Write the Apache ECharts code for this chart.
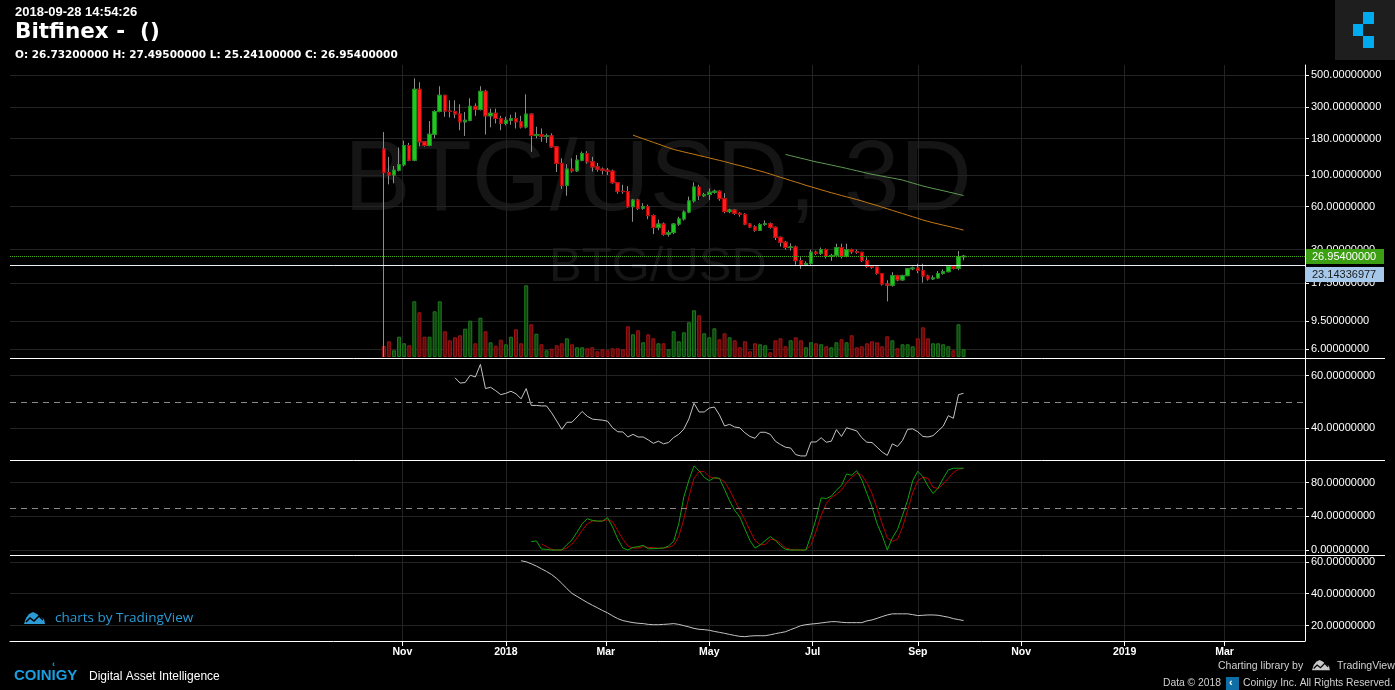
<!DOCTYPE html>
<html><head><meta charset="utf-8">
<script src="https://cdn.jsdelivr.net/npm/echarts@6/dist/echarts.min.js"></script>
<style>html,body{margin:0;padding:0;background:#000;}#c{width:1395px;height:690px;}</style>
</head><body><div id="c"></div>
<script>
// ---------- DATA ----------
const firstCandleUTC = [2017, 9, 21];   // 2017-10-21, 3D candles
const stepDays = 3;
// [open, close, low, high]  (first candle's low runs off the bottom of the chart)
const ohlc = [
[152,104,5.3,200],[104,100,86,134],[100,108,87.5,115.6],[108,118,106,156],[118,161,115,174],
[161,127,125,168],[127,399,125,476],[399,171,159,447],[171,161,158,173],[161,193,159,239],
[193,279,181,285],[279,362,275,419],[362,281,256,365],[281,279,253,334],[279,268,250,334],
[268,236,206,313],[236,242,188,277],[242,303,238,345],[303,288,260,318],[288,386,283,419],
[386,260,192,395],[260,271,216,292],[271,249,230,292],[249,230,206,260],[230,242,223,256],
[242,249,225,265],[249,236,212,275],[236,217,212,260],[217,267,212,368],[267,189,145.5,270],
[189,192,181,218],[192,187,171,212],[187,188,168,195],[188,157.6,155,196],[157.6,120.6,105,160],
[120.6,84.7,80,131],[84.7,110,71.5,119],[110,107,104,131],[107,127,105,138],[127,141.6,125,146],
[141.6,123.8,120,147],[123.8,114,105.6,134],[114,110,105.6,121.5],[110,108,101,113],[108,106.5,100,112],
[106.5,88.3,87,109],[88.3,76.9,73.9,89],[76.9,76.5,73.9,85.5],[76.5,60,59,83.6],[60,66.8,47,68],
[66.8,58.5,57,68],[58.5,60,57,63.5],[60,51.9,49,62],[51.9,42.8,38.5,53],[42.8,45.3,41,48.7],
[45.3,38.5,37.5,46.5],[38.5,39.5,37,41],[39.5,45.3,38.5,46],[45.3,49.2,44,51],[49.2,55,48,56.5],
[55,65.8,54,70.6],[65.8,82.4,64,89],[82.4,71.6,66.8,85.5],[71.6,73,70,75],[73,75.7,66.8,80.5],
[75.7,77,74,79],[77,68.3,66,78],[68.3,55.4,53.9,74.6],[55.4,56.8,54,58],[56.8,53.9,52.5,57.5],
[53.9,53,51,55],[53,45.3,44.5,54],[45.3,43.3,42.5,46],[43.3,41,40,44.5],[41,45,40.5,46],
[45,45.5,44,48],[45.5,43,42,46.5],[43,36.6,35,43.5],[36.6,33.8,31.5,37],[33.8,31,30,34.5],
[31,31.3,29.5,33.2],[31.3,25.1,23.5,32],[25.1,23.5,22,26.5],[23.5,24,23,24.8],[24,28.8,23.5,30],
[28.8,28.2,27.5,29.5],[28.2,30,27.5,31],[30,26.9,26,30.5],[26.9,27.3,25,28],[27.3,31,26.5,33],
[31,26.9,26,33],[26.9,30,26.5,33],[30,29,28,30.5],[29,28.7,28,30],[28.7,25.1,24.5,29],
[25.1,22.8,22.3,26.5],[22.8,22.6,22,23.3],[22.6,20.4,20,22.8],[20.4,17.2,16.8,20.6],[17.2,16.9,13,18.3],
[16.9,19.7,16.5,20.8],[19.7,18.4,18,20],[18.4,19.7,18.2,20],[19.7,22,19.5,22.3],[22,22.3,21.5,22.8],
[22.3,21.4,20.5,23.9],[21.4,19.6,17.6,23.9],[19.6,18.7,18.2,20],[18.7,19,18.4,19.8],[19,20.4,18.8,21.2],
[20.4,21,20,21.8],[21,22.8,20.8,23.2],[22.8,22.2,21.8,23.3],[22.2,26.732,21.5,29.3],[26.732,26.954,25.241,27.495]
];
// volume (thousand BTG), one per candle
const volume = [
11,15.7,6.7,20.3,13.7,11.7,55.7,44.7,20.3,20.3,
45.7,55.7,25.7,16.7,19.7,21.7,28.3,36.3,13.7,39.3,
25.7,14.7,11.3,17.3,12.7,20.3,27.7,13.7,71.7,32.7,
23.3,12.7,6.7,8.3,11.7,13.7,18.7,12.7,9.7,9.7,
8.7,9.7,5.7,7.7,6.7,8.7,8.7,7.7,30.7,22.7,
26.7,14.7,22.7,18.7,13.7,13.7,7.7,25.7,15.7,24.7,
34.7,46.7,41.7,23.7,19.7,28.7,17.7,23.7,19.7,16.7,
9.7,15.7,5.7,13.7,12.7,11.7,4.7,16.7,18.7,10.7,
16.7,19.7,16.7,9.7,14.7,13.7,12.7,10.7,9.7,14.7,
17.7,14.7,21.7,9.7,10.7,13.7,15.7,14.7,10.7,20.7,
16.7,8.7,12.7,12.7,10.7,18.7,29.7,18.7,13.7,13.7,
12.7,10.7,6.7,32.7,7.7
];
// moving averages (start candle numbers are 1-based)
const maOrangeStart = 50;
const maOrange = [190.3,184.9,179.6,174.5,169.5,164.7,159.9,155.4,151.2,148.1,
145.2,142.4,139.7,137,134.4,131.8,129.1,126.6,124.2,121.4,
118.7,116.4,114,111.5,109,106.6,104.2,101.6,99,96.4,
94,91.5,89.3,87,84.7,82.7,80.7,78.8,76.9,75.1,
73.5,71.8,70.3,68.8,67.3,65.8,64.1,62.6,61.1,59.5,
58,56.5,55.1,53.7,52.3,51,49.7,48.4,47.3,46.3,
45.4,44.5,43.7,42.8,42,41.1];
const maGreenStart = 80;
const maGreen = [139.5,136.6,134,131.2,128.7,126,123.6,121.6,119.5,117.4,
115.3,113.4,111.3,109.2,107.1,105.1,103,101.2,99.6,98.2,
96.6,95.2,93.7,92.2,90,87.8,85.8,83.7,82.1,80.5,
79,77.6,76.1,74.7,73.2,71.8];
const rsiStart = 15;
const rsi = [59.2,57.2,57.4,60.2,59.5,64.3,55.1,55.6,54.3,52.8,
53.3,54.1,53.1,51.2,55.1,48.7,48.7,48.5,48.5,45.9,
42.8,39.6,42.3,42.3,44.3,46.4,44.6,43.5,43.3,43.1,
42.7,40.2,38.7,38.6,36.7,37.7,36.7,36.7,35.6,34.3,
35.1,34.1,34.6,36.5,37.7,39.7,43.6,49.5,46.2,46.2,
47.7,48.1,45.1,40.9,41.5,40.5,40.2,38.3,36.9,36.2,
38.5,38.5,37.7,35.1,33.8,32.8,32.5,30,29.5,29.5,
34.8,34.8,36.4,34.7,35.1,39.5,36.9,40.2,39.6,39,
36.4,34.7,34.6,32.8,31,29.7,34.1,33.1,35.4,39.6,
39.8,38.7,36.9,36.7,37.2,39,40.8,44.8,43.8,52.8,53.3];
const stochKStart = 30;
const stochK = [10,10.8,1.2,0.8,0,0,0,6.4,12,21.2,
31.2,37.2,35.2,34.4,34.4,38.4,27.2,13.2,2.4,0,
3.2,4,5.6,1.6,1.6,2,2.4,4.8,10.4,31.2,
63.2,83.2,100,94,86.4,82.4,86,85.2,72,58.4,
47.2,39.2,25.2,11.2,2.4,6,11.2,16,11.2,5.2,
0.8,0,0,0,0,17.2,37.2,62,61.2,64,
71.2,76.8,90.4,88.8,94.4,83.2,67.2,51.2,31.2,17.2,
0,14.4,24.4,41.2,59.2,82.4,93.6,87.2,76,67.2,
73.6,85.2,95.2,97.2,97.2,97.2];
const stochDStart = 32;
const stochD = [7.2,4,0.8,0,0,2.4,7.2,14.4,23.2,31.2,
34.4,34.4,34.4,36,33.6,23.2,12.8,4.8,2.4,2.4,
4,3.2,2.8,2,2.4,3.2,5.6,16,36.8,63.2,
85.2,93.2,93.2,87.2,85.2,85.2,81.2,71.2,59.2,47.2,
36,23.2,11.2,6.4,6.4,12.8,12,8,2.4,0.8,
0,0,0,6.4,22.4,41.2,55.2,62.4,66.4,71.2,
80,86.4,91.2,88.8,80,67.2,49.2,31.2,14.4,10.4,
12.8,27.2,47.2,68,82.4,86.4,85.2,74.4,73.2,78.4,
85.2,92,96,97.2];
const adxStart = 28;
const adx = [60.6,60,58.7,57.3,55.6,53.9,52,49.5,46.5,43.2,
40.2,38.3,36.4,34.5,32.8,31.2,29.5,28,26.1,24.4,
23.2,22.5,21.9,21.5,21.3,20.8,20.6,20.6,20.8,21,
21.3,20.8,20,19.2,18.3,17.7,17.5,17.1,16.4,15.8,
15.2,14.5,13.9,13.3,13.1,13.5,13.7,13.7,13.7,14.3,
15,15.6,16.2,17.5,18.7,20,20.6,21,21.3,21.7,
22.1,22.5,22.5,22.1,21.9,21.9,21.9,21.9,23,23.6,
24.6,25.7,26.7,27.4,27.4,27.4,27.4,26.9,26.3,26.5,
26.7,26.7,26.5,25.9,25.3,24.4,23.8,23.2];
const lastClose = 26.954;
const refLevel = 23.14336977;
const rsiMid = 50, stochMid = 50;
const priceTicks = [6, 9.5, 17.5, 30, 60, 100, 180, 300, 500];
const rsiTicks = [40, 60];
const stochTicks = [0, 40, 80];
const adxTicks = [20, 40, 60];
const monthTicks = [[2017,10],[2018,0],[2018,2],[2018,4],[2018,6],[2018,8],[2018,10],[2019,0],[2019,2]];
const monthNames = ['Jan','Feb','Mar','Apr','May','Jun','Jul','Aug','Sep','Oct','Nov','Dec'];
const headerDate = '2018-09-28 14:54:26';
const headerTitle = 'Bitfinex -  ()';
const headerOHLC = 'O: 26.73200000 H: 27.49500000 L: 25.24100000 C: 26.95400000';

// ---------- BUILD ----------
const DAY = 86400000;
const t0 = Date.UTC(firstCandleUTC[0], firstCandleUTC[1], firstCandleUTC[2]);
const tAt = n => t0 + (n - 1) * stepDays * DAY;   // n is 1-based candle number
const xMin = Date.UTC(2017, 2, 14, 12);
const xMax = Date.UTC(2019, 3, 17, 10);
const monthTs = monthTicks.map(m => Date.UTC(m[0], m[1], 1));
const gridColor = '#232323';
const labelFont = 'Liberation Sans, Arial, sans-serif';

const candleData = ohlc.map((d, i) => [tAt(i + 1), d[0], d[1], d[2], d[3]]);
const bodyData = ohlc.map((d, i) => [tAt(i + 1), d[0], d[1], Math.min(d[0], d[1]), Math.max(d[0], d[1])]);
const volData = volume.map((v, i) => {
  const up = ohlc[i][1] >= ohlc[i][0];
  return { value: [tAt(i + 1), v], itemStyle: up ? { color: '#0d470d', borderColor: '#1d7a1d', borderWidth: 1 } : { color: '#640a0a', borderColor: '#9c1414', borderWidth: 1 } };
});
const toLine = (arr, start) => arr.map((v, k) => [tAt(start + k), v]);

function xAxisFor(gi, showLabels, showSplit) {
  return {
    type: 'value', gridIndex: gi, min: xMin, max: xMax, scale: true,
    axisLine: { show: showLabels, onZero: false, lineStyle: { color: '#ffffff', width: 1 } },
    axisTick: { show: showLabels, customValues: monthTs, length: 5, lineStyle: { color: '#ffffff' } },
    axisLabel: {
      show: showLabels, customValues: monthTs, color: '#ffffff', fontSize: 10.5, fontWeight: 'bold',
      fontFamily: labelFont, margin: 6,
      formatter: v => { const d = new Date(Number(v)); return d.getUTCMonth() === 0 ? String(d.getUTCFullYear()) : monthNames[d.getUTCMonth()]; }
    },
    splitLine: { show: showSplit, lineStyle: { color: gridColor, width: 1 } }
  };
}
function yAxisFor(gi, type, min, max, ticks) {
  return {
    type: type, gridIndex: gi, position: 'right', min: min, max: max,
    axisLine: { show: true, onZero: false, lineStyle: { color: '#ffffff', width: 1 } },
    axisTick: { show: true, customValues: ticks, length: 4, lineStyle: { color: '#ffffff' } },
    axisLabel: { customValues: ticks, color: '#ffffff', fontSize: 11, fontFamily: labelFont, margin: 6,
      formatter: v => Number(v).toFixed(8) },
    splitLine: { show: true, lineStyle: { color: gridColor, width: 1 } }
  };
}
const gridBase = { left: 10, width: 1295, containLabel: false };

const option = {
  backgroundColor: '#000000',
  animation: false,
  grid: [
    Object.assign({ top: 65, height: 292 }, gridBase),
    Object.assign({ top: 282, height: 75 }, gridBase),
    Object.assign({ top: 359, height: 101 }, gridBase),
    Object.assign({ top: 461, height: 94 }, gridBase),
    Object.assign({ top: 556, height: 85 }, gridBase)
  ],
  xAxis: [xAxisFor(0, false, true), xAxisFor(1, false, false), xAxisFor(2, false, true), xAxisFor(3, false, true), xAxisFor(4, true, true)],
  yAxis: [
    Object.assign(yAxisFor(0, 'log', 5.30, 590.5, priceTicks), { logBase: 10 }),
    { type: 'value', gridIndex: 1, min: 0, max: 75, show: false },
    yAxisFor(2, 'value', 27.95, 66.35, rsiTicks),
    yAxisFor(3, 'value', -5.9, 105.8, stochTicks),
    yAxisFor(4, 'value', 10.4, 63.6, adxTicks)
  ],
  series: [
    { type: 'bar', xAxisIndex: 1, yAxisIndex: 1, data: volData, barWidth: 4, z: 1 },
    { type: 'candlestick', xAxisIndex: 0, yAxisIndex: 0, data: candleData, encode: { x: 0, y: [1, 2, 3, 4] },
      barWidth: 4, z: 3, clip: true,
      itemStyle: { color: '#8c8c8c', color0: '#8c8c8c', borderColor: '#8c8c8c', borderColor0: '#8c8c8c', borderWidth: 1 } },
    { type: 'candlestick', xAxisIndex: 0, yAxisIndex: 0, data: bodyData, encode: { x: 0, y: [1, 2, 3, 4] },
      barWidth: 4, z: 4, clip: true,
      itemStyle: { color: '#22c622', color0: '#ff1c1c', borderColor: '#178f17', borderColor0: '#b80000', borderWidth: 1 },
      markLine: { silent: true, symbol: ['none', 'none'], label: { show: false },
        data: [
          { yAxis: lastClose, lineStyle: { color: '#46b01a', type: 'dotted', width: 1 } },
          { yAxis: refLevel, lineStyle: { color: '#e8eef8', type: 'solid', width: 1 } }
        ] } },
    { type: 'line', xAxisIndex: 0, yAxisIndex: 0, data: toLine(maOrange, maOrangeStart), showSymbol: false, z: 5,
      lineStyle: { color: '#c47a12', width: 1 } },
    { type: 'line', xAxisIndex: 0, yAxisIndex: 0, data: toLine(maGreen, maGreenStart), showSymbol: false, z: 5,
      lineStyle: { color: '#5e9a52', width: 1 } },
    { type: 'line', xAxisIndex: 2, yAxisIndex: 2, data: toLine(rsi, rsiStart), showSymbol: false,
      lineStyle: { color: '#c4c4c4', width: 1 },
      markLine: { silent: true, symbol: ['none', 'none'], label: { show: false },
        lineStyle: { color: '#8a8a8a', type: [6, 5], width: 1 }, data: [{ yAxis: rsiMid }] } },
    { type: 'line', xAxisIndex: 3, yAxisIndex: 3, data: toLine(stochD, stochDStart), showSymbol: false,
      lineStyle: { color: '#b30000', width: 1 },
      markLine: { silent: true, symbol: ['none', 'none'], label: { show: false },
        lineStyle: { color: '#8a8a8a', type: [6, 5], width: 1 }, data: [{ yAxis: stochMid }] } },
    { type: 'line', xAxisIndex: 3, yAxisIndex: 3, data: toLine(stochK, stochKStart), showSymbol: false,
      lineStyle: { color: '#0fa20f', width: 1 } },
    { type: 'line', xAxisIndex: 4, yAxisIndex: 4, data: toLine(adx, adxStart), showSymbol: false,
      lineStyle: { color: '#c4c4c4', width: 1 } }
  ]
};

const chart = echarts.init(document.getElementById('c'), null, { renderer: 'canvas' });
chart.setOption(option);

let yG = 256, yB = 266;
try {
  yG = chart.convertToPixel({ yAxisIndex: 0 }, lastClose);
  yB = chart.convertToPixel({ yAxisIndex: 0 }, refLevel);
} catch (e) {}
const labH = 15;
const gTop = Math.round(yG - labH / 2);
const bTop = Math.max(Math.round(yB - labH / 2), gTop + labH + 3);

const wm = '#151515';
const txt = (x, y, text, font, fill, extra) => Object.assign({ type: 'text', x: x, y: y, z: 50,
  style: { text: text, font: font, fill: fill, align: 'left', verticalAlign: 'middle' } }, extra || {});
const hline = (y, x1, x2) => ({ type: 'line', z: 40, shape: { x1: x1, y1: y, x2: x2, y2: y }, style: { stroke: '#ffffff', lineWidth: 1 } });
const cloud = (x, y, s, fill) => ([
  { type: 'polygon', z: 50, shape: { points: [[x, y + 12 * s], [x + 2 * s, y + 6 * s], [x + 5 * s, y + 2 * s], [x + 9 * s, y], [x + 13 * s, y + 2 * s], [x + 16 * s, y + 5 * s], [x + 20 * s, y + 7 * s], [x + 21 * s, y + 12 * s]] }, style: { fill: fill } },
  { type: 'polyline', z: 51, shape: { points: [[x + 2 * s, y + 10 * s], [x + 6 * s, y + 6 * s], [x + 10 * s, y + 9 * s], [x + 15 * s, y + 4 * s], [x + 19 * s, y + 8 * s]] }, style: { stroke: '#000', lineWidth: 1.5 * s, fill: null } }
]);

const graphics = [
  { type: 'text', x: 658, y: 182, z: -5, silent: true, style: { text: 'BTG/USD, 3D', font: '100px "Liberation Sans", Arial', fill: wm, align: 'center', verticalAlign: 'middle' } },
  { type: 'text', x: 658, y: 267, z: -5, silent: true, style: { text: 'BTG/USD', font: '49px "Liberation Sans", Arial', fill: wm, align: 'center', verticalAlign: 'middle' } },
  hline(358.5, 10, 1385), hline(460.5, 10, 1385), hline(555.5, 10, 1385),
  { type: 'line', z: 40, shape: { x1: 1305.5, y1: 65, x2: 1305.5, y2: 641 }, style: { stroke: '#ffffff', lineWidth: 1 } },
  txt(15, 12, headerDate, 'bold 13px "Liberation Sans", Arial', '#ffffff'),
  txt(15, 32, headerTitle, 'bold 21.5px "DejaVu Sans"', '#ffffff'),
  txt(15, 55, headerOHLC, 'bold 10.5px "DejaVu Sans"', '#ffffff'),
  { type: 'rect', z: 50, shape: { x: 1335, y: 0, width: 60, height: 60 }, style: { fill: '#1e1e1e' } },
  { type: 'rect', z: 51, shape: { x: 1363, y: 12, width: 11, height: 12 }, style: { fill: '#00aaef' } },
  { type: 'rect', z: 51, shape: { x: 1353, y: 24, width: 10, height: 12 }, style: { fill: '#00aaef' } },
  { type: 'rect', z: 51, shape: { x: 1363, y: 36, width: 11, height: 12 }, style: { fill: '#00aaef' } },
  { type: 'rect', z: 60, shape: { x: 1306, y: gTop, width: 78, height: labH }, style: { fill: '#3c9e12' } },
  txt(1312, gTop + labH / 2 + 0.5, lastClose.toFixed(8), '11px "Liberation Sans", Arial', '#ffffff', { z: 61 }),
  { type: 'rect', z: 60, shape: { x: 1305, y: bTop, width: 79, height: labH }, style: { fill: '#a6c8ea' } },
  txt(1312, bTop + labH / 2 + 0.5, refLevel.toFixed(8), '11px "Liberation Sans", Arial', '#1a1a1a', { z: 61 }),
  ...cloud(24, 612, 1, '#2b9bd6'),
  txt(55, 618, 'charts by TradingView', '13.5px "Open Sans", sans-serif', '#2b9bd6'),
  txt(14, 676, 'COINIGY', 'bold 15px "Liberation Sans", Arial', '#1a9fe2'),
  txt(52, 665, '‹', 'bold 9px "Liberation Sans", Arial', '#1a9fe2'),
  txt(89, 677, 'Digital Asset Intelligence', '12px "Liberation Sans", Arial', '#ffffff'),
  txt(1218, 666, 'Charting library by', '10.5px "Liberation Sans", Arial', '#d0d0d0'),
  ...cloud(1312, 660, 0.85, '#c8c8c8'),
  txt(1337, 666, 'TradingView', '10.5px "Liberation Sans", Arial', '#d0d0d0'),
  txt(1163, 683, 'Data © 2018', '10.3px "Liberation Sans", Arial', '#d0d0d0'),
  { type: 'rect', z: 50, shape: { x: 1226, y: 677, width: 13, height: 13 }, style: { fill: '#0e6fa6' } },
  txt(1229, 683, '‹', 'bold 11px "Liberation Sans", Arial', '#ffffff', { z: 51 }),
  txt(1243, 683, 'Coinigy Inc. All Rights Reserved.', '10.3px "Liberation Sans", Arial', '#d0d0d0')
];
chart.setOption({ graphic: graphics });
</script>
</body></html>
